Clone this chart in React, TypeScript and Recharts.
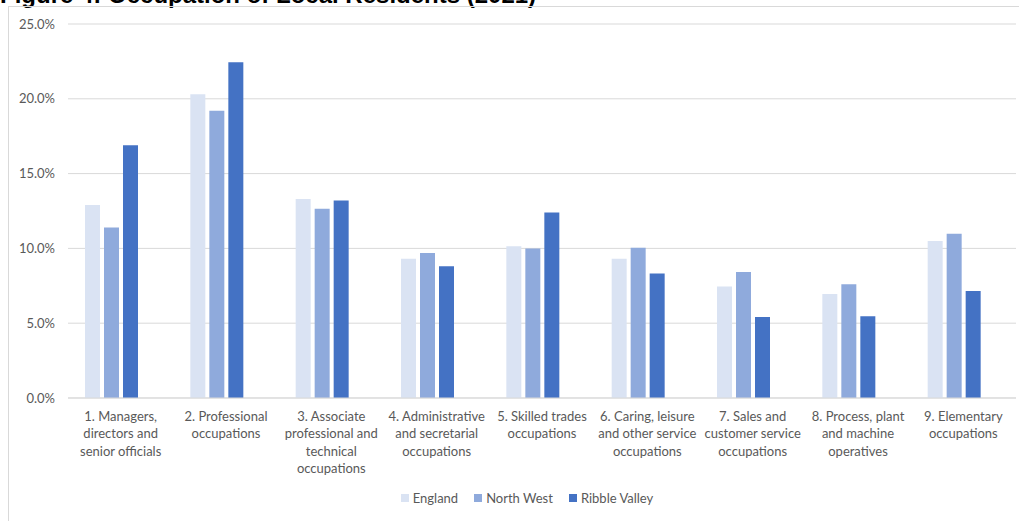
import React from "react";
import { BarChart, Bar, XAxis, YAxis, CartesianGrid, Legend } from "recharts";

const categories = [
  "1. Managers,\ndirectors and\nsenior officials",
  "2. Professional\noccupations",
  "3. Associate\nprofessional and\ntechnical\noccupations",
  "4. Administrative\nand secretarial\noccupations",
  "5. Skilled trades\noccupations",
  "6. Caring, leisure\nand other service\noccupations",
  "7. Sales and\ncustomer service\noccupations",
  "8. Process, plant\nand machine\noperatives",
  "9. Elementary\noccupations",
];

const england = [12.9, 20.3, 13.3, 9.3, 10.15, 9.3, 7.45, 6.95, 10.5];
const northWest = [11.4, 19.2, 12.65, 9.7, 10.0, 10.05, 8.43, 7.6, 10.98];
const ribbleValley = [16.9, 22.45, 13.2, 8.8, 12.4, 8.33, 5.42, 5.47, 7.16];

const yTicks = [0, 5, 10, 15, 20, 25];

const data = categories.map((name, i) => ({
  name,
  England: england[i],
  "North West": northWest[i],
  "Ribble Valley": ribbleValley[i],
}));

const FONT = "Lato, 'Open Sans', sans-serif";
const TEXT = "#595959";

function CategoryTick(props: any) {
  const { x, y, payload } = props;
  const lines = String(payload.value).split("\n");
  return (
    <text x={x} y={y + 15} textAnchor="middle" fill={TEXT} fontSize={13} fontFamily={FONT}>
      {lines.map((l, i) => (
        <tspan key={i} x={x} dy={i === 0 ? 0 : 17.3}>
          {l}
        </tspan>
      ))}
    </text>
  );
}

function LegendContent(props: any) {
  const items = (props.payload || []).filter((p: any) => p.type !== "none");
  return (
    <div style={{ display: "flex", justifyContent: "center", fontFamily: FONT, fontSize: 13, color: TEXT }}>
      {items.map((p: any) => (
        <div key={p.value} style={{ display: "flex", alignItems: "center", marginRight: 16 }}>
          <span style={{ width: 8, height: 8, background: p.color, display: "inline-block", marginRight: 4 }} />
          <span>{p.value}</span>
        </div>
      ))}
    </div>
  );
}

export default function App() {
  return (
    <div style={{ position: "fixed", left: 0, top: 0, width: 1024, height: 521, background: "#fff", overflow: "hidden" }}>
      <div
        style={{
          position: "absolute",
          left: 0,
          top: -17,
          fontFamily: "'Liberation Sans', Arial, sans-serif",
          fontWeight: "bold",
          fontSize: 24,
          lineHeight: 1,
          color: "#000",
          whiteSpace: "nowrap",
        }}
      >
        Figure 4: Occupation of Local Residents (2021)
      </div>
      <div
        style={{
          position: "absolute",
          left: 8,
          top: 6,
          width: 1010,
          height: 530,
          borderLeft: "1px solid #d9d9d9",
          borderTop: "1px solid #d9d9d9",
        }}
      />
      <div style={{ position: "absolute", left: 0, top: 0 }}>
        <BarChart
          width={1024}
          height={521}
          data={data}
          margin={{ top: 24, right: 8, left: 0, bottom: 47 }}
          barSize={15}
          barGap={4}
        >
          <CartesianGrid vertical={false} stroke="#d9d9d9" />
          <XAxis
            dataKey="name"
            interval={0}
            height={60}
            axisLine={{ stroke: "#d9d9d9" }}
            tickLine={false}
            tick={<CategoryTick />}
          />
          <YAxis
            width={68}
            domain={[0, 25]}
            ticks={yTicks}
            axisLine={false}
            tickLine={false}
            tickMargin={7}
            tick={{ fill: TEXT, fontSize: 13, fontFamily: FONT }}
            tickFormatter={(v: number) => `${v.toFixed(1)}%`}
          />
          <Legend
            verticalAlign="bottom"
            content={<LegendContent />}
            wrapperStyle={{ left: 390, width: 290, top: 490 }}
          />
          <Bar dataKey="England" fill="#dae3f3" isAnimationActive={false} />
          <Bar dataKey="North West" fill="#8faadc" isAnimationActive={false} />
          <Bar dataKey="Ribble Valley" fill="#4472c4" isAnimationActive={false} />
          <Bar dataKey="blank" fill="none" legendType="none" isAnimationActive={false} />
        </BarChart>
      </div>
    </div>
  );
}
